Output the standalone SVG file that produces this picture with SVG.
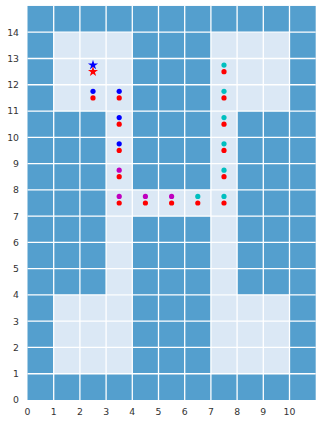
<svg xmlns="http://www.w3.org/2000/svg" width="322" height="424" viewBox="0 0 322 424">
<style>
.dark{fill:#549fce}
.light{fill:#dbe8f5}
.grid line{stroke:#fff;stroke-width:1.3}
.tick{font-family:"DejaVu Sans",sans-serif;font-size:9.3px;fill:#333}
.yt{text-anchor:end}
.xt{text-anchor:middle}
.r{fill:#ff0000}
.b{fill:#0000ff}
.m{fill:#bf00bf}
.c{fill:#00bfbf}
</style>
<defs>
<path id="star" d="M0,-5.3 L1.187,-1.634 L5.04,-1.64 L1.921,0.624 L3.115,4.288 L0,2.02 L-3.115,4.288 L-1.921,0.624 L-5.04,-1.64 L-1.187,-1.634 Z"/>
<circle id="dot" r="2.6"/>
</defs>
<rect width="322" height="424" fill="#fff"/>
<g id="map">
<rect class="dark" x="27.5" y="5.95" width="288.2" height="394.05"/>
<rect class="light" x="53.7" y="32.22" width="78.6" height="78.81"/>
<rect class="light" x="210.9" y="32.22" width="78.6" height="78.81"/>
<rect class="light" x="106.1" y="111.03" width="26.2" height="183.89"/>
<rect class="light" x="210.9" y="111.03" width="26.2" height="183.89"/>
<rect class="light" x="106.1" y="189.84" width="131" height="26.27"/>
<rect class="light" x="53.7" y="294.92" width="78.6" height="78.81"/>
<rect class="light" x="210.9" y="294.92" width="78.6" height="78.81"/>
</g>
<g id="grid" class="grid">
<line x1="53.7" y1="5.95" x2="53.7" y2="400"/>
<line x1="79.9" y1="5.95" x2="79.9" y2="400"/>
<line x1="106.1" y1="5.95" x2="106.1" y2="400"/>
<line x1="132.3" y1="5.95" x2="132.3" y2="400"/>
<line x1="158.5" y1="5.95" x2="158.5" y2="400"/>
<line x1="184.7" y1="5.95" x2="184.7" y2="400"/>
<line x1="210.9" y1="5.95" x2="210.9" y2="400"/>
<line x1="237.1" y1="5.95" x2="237.1" y2="400"/>
<line x1="263.3" y1="5.95" x2="263.3" y2="400"/>
<line x1="289.5" y1="5.95" x2="289.5" y2="400"/>
<line x1="27.5" y1="373.73" x2="315.7" y2="373.73"/>
<line x1="27.5" y1="347.46" x2="315.7" y2="347.46"/>
<line x1="27.5" y1="321.19" x2="315.7" y2="321.19"/>
<line x1="27.5" y1="294.92" x2="315.7" y2="294.92"/>
<line x1="27.5" y1="268.65" x2="315.7" y2="268.65"/>
<line x1="27.5" y1="242.38" x2="315.7" y2="242.38"/>
<line x1="27.5" y1="216.11" x2="315.7" y2="216.11"/>
<line x1="27.5" y1="189.84" x2="315.7" y2="189.84"/>
<line x1="27.5" y1="163.57" x2="315.7" y2="163.57"/>
<line x1="27.5" y1="137.3" x2="315.7" y2="137.3"/>
<line x1="27.5" y1="111.03" x2="315.7" y2="111.03"/>
<line x1="27.5" y1="84.76" x2="315.7" y2="84.76"/>
<line x1="27.5" y1="58.49" x2="315.7" y2="58.49"/>
<line x1="27.5" y1="32.22" x2="315.7" y2="32.22"/>
</g>
<g id="yticks" class="tick yt">
<text x="19" y="403.4">0</text>
<text x="19" y="377.1">1</text>
<text x="19" y="350.9">2</text>
<text x="19" y="324.6">3</text>
<text x="19" y="298.3">4</text>
<text x="19" y="272.1">5</text>
<text x="19" y="245.8">6</text>
<text x="19" y="219.5">7</text>
<text x="19" y="193.2">8</text>
<text x="19" y="167">9</text>
<text x="19" y="140.7">10</text>
<text x="19" y="114.4">11</text>
<text x="19" y="88.2">12</text>
<text x="19" y="61.9">13</text>
<text x="19" y="35.6">14</text>
</g>
<g id="xticks" class="tick xt">
<text x="27.5" y="415">0</text>
<text x="53.7" y="415">1</text>
<text x="79.9" y="415">2</text>
<text x="106.1" y="415">3</text>
<text x="132.3" y="415">4</text>
<text x="158.5" y="415">5</text>
<text x="184.7" y="415">6</text>
<text x="210.9" y="415">7</text>
<text x="237.1" y="415">8</text>
<text x="263.3" y="415">9</text>
<text x="289.5" y="415">10</text>
</g>
<g id="path-dots">
<use href="#dot" class="b" x="93" y="91.33"/>
<use href="#dot" class="b" x="119.2" y="91.33"/>
<use href="#dot" class="b" x="119.2" y="117.6"/>
<use href="#dot" class="b" x="119.2" y="143.87"/>
<use href="#dot" class="m" x="119.2" y="170.14"/>
<use href="#dot" class="m" x="119.2" y="196.41"/>
<use href="#dot" class="m" x="145.4" y="196.41"/>
<use href="#dot" class="m" x="171.6" y="196.41"/>
<use href="#dot" class="c" x="197.8" y="196.41"/>
<use href="#dot" class="c" x="224" y="196.41"/>
<use href="#dot" class="c" x="224" y="170.14"/>
<use href="#dot" class="c" x="224" y="143.87"/>
<use href="#dot" class="c" x="224" y="117.6"/>
<use href="#dot" class="c" x="224" y="91.33"/>
<use href="#dot" class="c" x="224" y="65.06"/>
<use href="#dot" class="r" x="93" y="97.9"/>
<use href="#dot" class="r" x="119.2" y="97.9"/>
<use href="#dot" class="r" x="119.2" y="124.17"/>
<use href="#dot" class="r" x="119.2" y="150.44"/>
<use href="#dot" class="r" x="119.2" y="176.71"/>
<use href="#dot" class="r" x="119.2" y="202.98"/>
<use href="#dot" class="r" x="145.4" y="202.98"/>
<use href="#dot" class="r" x="171.6" y="202.98"/>
<use href="#dot" class="r" x="197.8" y="202.98"/>
<use href="#dot" class="r" x="224" y="202.98"/>
<use href="#dot" class="r" x="224" y="176.71"/>
<use href="#dot" class="r" x="224" y="150.44"/>
<use href="#dot" class="r" x="224" y="124.17"/>
<use href="#dot" class="r" x="224" y="97.9"/>
<use href="#dot" class="r" x="224" y="71.63"/>
</g>
<g id="starts">
<use href="#star" class="b" x="93" y="65.06"/>
<use href="#star" class="r" x="93" y="71.63"/>
</g>
</svg>
